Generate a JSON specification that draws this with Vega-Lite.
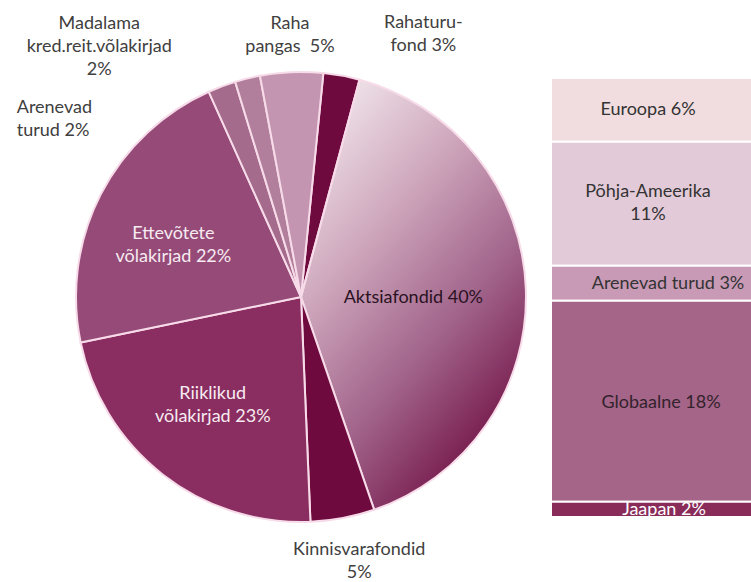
{
  "$schema": "https://vega.github.io/schema/vega-lite/v6.json",
  "background": "white",
  "padding": {"left": 16, "top": 14, "right": 0, "bottom": 0},
  "spacing": 20,
  "resolve": {"scale": {"color": "independent", "theta": "independent", "x": "independent", "y": "independent"}},
  "config": {"view": {"stroke": null}, "text": {"font": "Lato", "fontSize": 18, "lineBreak": "\n", "lineHeight": 23}},
  "datasets": {
    "pie": [
      {"k": "Rahaturu-fond", "lab": "Rahaturu-\nfond 3%", "v": 2.6, "o": 1},
      {"k": "Aktsiafondid", "lab": "Aktsiafondid 40%", "v": 40.5, "o": 2},
      {"k": "Kinnisvarafondid", "lab": "Kinnisvarafondid\n5%", "v": 4.6, "o": 3},
      {"k": "Riiklikud võlakirjad", "lab": "Riiklikud\nvõlakirjad 23%", "v": 22.4, "o": 4},
      {"k": "Ettevõtete võlakirjad", "lab": "Ettevõtete\nvõlakirjad 22%", "v": 21.5, "o": 5},
      {"k": "Arenevad turud", "lab": "Arenevad\nturud 2%", "v": 2.0, "o": 6},
      {"k": "Madalama kred.reit.võlakirjad", "lab": "Madalama\nkred.reit.võlakirjad\n2%", "v": 1.8, "o": 7},
      {"k": "Raha pangas", "lab": "Raha\npangas\u00a0 5%", "v": 4.5, "o": 8}
    ],
    "bar": [
      {"g": "Aktsiafondid", "r": "Euroopa", "lab": "Euroopa 6%", "v": 5.8, "o": 5},
      {"g": "Aktsiafondid", "r": "Põhja-Ameerika", "lab": "Põhja-Ameerika\n11%", "v": 11.3, "o": 4},
      {"g": "Aktsiafondid", "r": "Arenevad turud", "lab": "Arenevad turud 3%", "v": 3.2, "o": 3},
      {"g": "Aktsiafondid", "r": "Globaalne", "lab": "Globaalne 18%", "v": 18.3, "o": 2},
      {"g": "Aktsiafondid", "r": "Jaapan", "lab": "Jaapan 2%", "v": 1.4, "o": 1}
    ]
  },
  "hconcat": [
    {
      "width": 450,
      "height": 566,
      "data": {"name": "pie"},
      "layer": [
        {
          "mark": {"type": "arc", "outerRadius": 225,
            "fill": {"gradient": "linear", "x1": 0.1, "y1": 0, "x2": 0.7, "y2": 1,
              "stops": [{"offset": 0, "color": "#f5edf1"}, {"offset": 0.35, "color": "#cfa8bd"}, {"offset": 0.68, "color": "#9f6088"}, {"offset": 1, "color": "#6e0c40"}]}},
          "encoding": {
            "theta": {"field": "v", "type": "quantitative", "stack": true, "scale": {"range": [0.0995, 6.3827]}},
            "order": {"field": "o", "type": "quantitative"}
          }
        },
        {
          "mark": {"type": "arc", "outerRadius": 225, "stroke": "#f7dbe9", "strokeWidth": 2},
          "encoding": {
            "theta": {"field": "v", "type": "quantitative", "stack": true},
            "order": {"field": "o", "type": "quantitative"},
            "color": {
              "field": "k", "type": "nominal", "legend": null,
              "scale": {
                "domain": ["Rahaturu-fond", "Aktsiafondid", "Kinnisvarafondid", "Riiklikud võlakirjad", "Ettevõtete võlakirjad", "Arenevad turud", "Madalama kred.reit.võlakirjad", "Raha pangas"],
                "range": ["#6f0a3f", "transparent", "#6e0a3e", "#8a2d60", "#954a78", "#a46b8c", "#b17f9c", "#c495b0"]
              }
            }
          }
        },
        {
          "transform": [{"stack": "v", "groupby": [], "sort": [{"field": "o", "order": "ascending"}], "as": ["s0", "s1"]}, {"filter": "datum.o === 2"}],
          "mark": {"type": "text", "radius": 113, "dx": 83, "dy": 110, "fill": "#2a1222"},
          "encoding": {"theta": {"field": "s0", "type": "quantitative", "stack": null}, "text": {"field": "lab", "type": "nominal"}}
        },
        {
          "transform": [{"stack": "v", "groupby": [], "sort": [{"field": "o", "order": "ascending"}], "as": ["s0", "s1"]}, {"filter": "datum.o === 4"}],
          "mark": {"type": "text", "radius": 113, "dx": -93, "dy": -16, "fill": "#f7ebf1"},
          "encoding": {"theta": {"field": "s0", "type": "quantitative", "stack": null}, "text": {"field": "lab", "type": "nominal"}}
        },
        {
          "transform": [{"stack": "v", "groupby": [], "sort": [{"field": "o", "order": "ascending"}], "as": ["s0", "s1"]}, {"filter": "datum.o === 5"}],
          "mark": {"type": "text", "radius": 113, "dx": -17, "dy": -86, "fill": "#f7ebf1"},
          "encoding": {"theta": {"field": "s0", "type": "quantitative", "stack": null}, "text": {"field": "lab", "type": "nominal"}}
        },
        {
          "transform": [{"stack": "v", "groupby": [], "sort": [{"field": "o", "order": "ascending"}], "as": ["s0", "s1"]}, {"filter": "datum.o === 7"}],
          "mark": {"type": "text", "radius": 225, "dx": -136, "dy": -58, "fill": "#404040"},
          "encoding": {"theta": {"field": "s0", "type": "quantitative", "stack": null}, "text": {"field": "lab", "type": "nominal"}}
        },
        {
          "transform": [{"stack": "v", "groupby": [], "sort": [{"field": "o", "order": "ascending"}], "as": ["s0", "s1"]}, {"filter": "datum.o === 8"}],
          "mark": {"type": "text", "radius": 225, "dx": 30, "dy": -52, "fill": "#404040"},
          "encoding": {"theta": {"field": "s0", "type": "quantitative", "stack": null}, "text": {"field": "lab", "type": "nominal"}}
        },
        {
          "transform": [{"stack": "v", "groupby": [], "sort": [{"field": "o", "order": "ascending"}], "as": ["s0", "s1"]}, {"filter": "datum.o === 1"}],
          "mark": {"type": "text", "radius": 225, "dx": 100, "dy": -50, "fill": "#404040"},
          "encoding": {"theta": {"field": "s0", "type": "quantitative", "stack": null}, "text": {"field": "lab", "type": "nominal"}}
        },
        {
          "transform": [{"stack": "v", "groupby": [], "sort": [{"field": "o", "order": "ascending"}], "as": ["s0", "s1"]}, {"filter": "datum.o === 6"}],
          "mark": {"type": "text", "radius": 225, "align": "left", "dx": -192, "dy": 16, "fill": "#404040"},
          "encoding": {"theta": {"field": "s0", "type": "quantitative", "stack": null}, "text": {"field": "lab", "type": "nominal"}}
        },
        {
          "transform": [{"stack": "v", "groupby": [], "sort": [{"field": "o", "order": "ascending"}], "as": ["s0", "s1"]}, {"filter": "datum.o === 3"}],
          "mark": {"type": "text", "radius": 225, "dx": -15, "dy": 40, "fill": "#404040"},
          "encoding": {"theta": {"field": "s0", "type": "quantitative", "stack": null}, "text": {"field": "lab", "type": "nominal"}}
        }
      ]
    },
    {
      "width": 210,
      "height": 566,
      "data": {"name": "bar"},
      "layer": [
        {
          "mark": {"type": "bar", "stroke": "white", "strokeWidth": 2},
          "encoding": {
            "x": {"field": "g", "type": "nominal", "scale": {"paddingInner": 0, "paddingOuter": 0}, "axis": null},
            "y": {"field": "v", "type": "quantitative", "stack": "zero", "scale": {"domain": [-5.74, 45.83], "nice": false, "zero": false}, "axis": null},
            "order": {"field": "o", "type": "quantitative"},
            "color": {
              "field": "r", "type": "nominal", "legend": null,
              "scale": {
                "domain": ["Euroopa", "Põhja-Ameerika", "Arenevad turud", "Globaalne", "Jaapan"],
                "range": ["#f1dde0", "#e2cad8", "#c89ab5", "#a46588", "#8a2c5a"]
              }
            }
          }
        },
        {
          "transform": [{"stack": "v", "groupby": ["g"], "sort": [{"field": "o", "order": "ascending"}], "as": ["s0", "s1"]}, {"filter": "datum.o === 5"}],
          "mark": {"type": "text", "dx": -8, "dy": 32, "fill": "#333333"},
          "encoding": {"x": {"field": "g", "type": "nominal"}, "y": {"field": "s1", "type": "quantitative"}, "text": {"field": "lab", "type": "nominal"}}
        },
        {
          "transform": [{"stack": "v", "groupby": ["g"], "sort": [{"field": "o", "order": "ascending"}], "as": ["s0", "s1"]}, {"filter": "datum.o === 4"}],
          "mark": {"type": "text", "dx": -8, "dy": 50, "fill": "#333333"},
          "encoding": {"x": {"field": "g", "type": "nominal"}, "y": {"field": "s1", "type": "quantitative"}, "text": {"field": "lab", "type": "nominal"}}
        },
        {
          "transform": [{"stack": "v", "groupby": ["g"], "sort": [{"field": "o", "order": "ascending"}], "as": ["s0", "s1"]}, {"filter": "datum.o === 3"}],
          "mark": {"type": "text", "dx": 12, "dy": 18, "fill": "#333333"},
          "encoding": {"x": {"field": "g", "type": "nominal"}, "y": {"field": "s1", "type": "quantitative"}, "text": {"field": "lab", "type": "nominal"}}
        },
        {
          "transform": [{"stack": "v", "groupby": ["g"], "sort": [{"field": "o", "order": "ascending"}], "as": ["s0", "s1"]}, {"filter": "datum.o === 2"}],
          "mark": {"type": "text", "dx": 5, "dy": 102, "fill": "#33222c"},
          "encoding": {"x": {"field": "g", "type": "nominal"}, "y": {"field": "s1", "type": "quantitative"}, "text": {"field": "lab", "type": "nominal"}}
        },
        {
          "transform": [{"stack": "v", "groupby": ["g"], "sort": [{"field": "o", "order": "ascending"}], "as": ["s0", "s1"]}, {"filter": "datum.o === 1"}],
          "mark": {"type": "text", "dx": 8, "dy": 8, "fill": "#ffffff"},
          "encoding": {"x": {"field": "g", "type": "nominal"}, "y": {"field": "s1", "type": "quantitative"}, "text": {"field": "lab", "type": "nominal"}}
        }
      ]
    }
  ]
}
